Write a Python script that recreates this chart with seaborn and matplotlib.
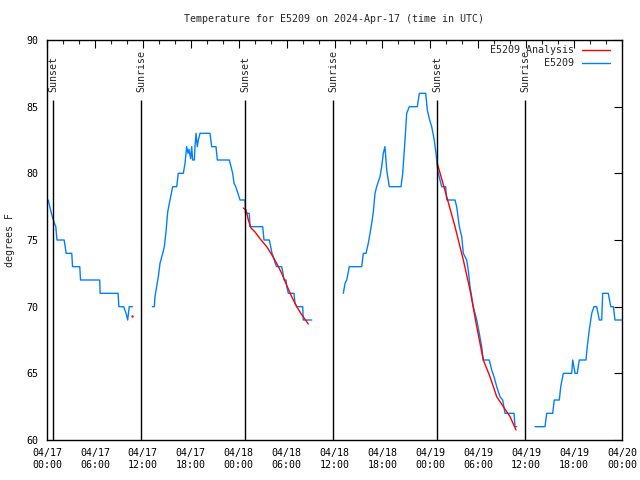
import numpy as np
import pandas as pd
import matplotlib
matplotlib.use("Agg")
import matplotlib.pyplot as plt
import matplotlib.dates as mdates
import seaborn as sns

start = pd.Timestamp("2024-04-17 00:00")

# observed E5209 temperature: hours after 04/17 00:00 UTC, degrees F
obs_hours_1 = [0.15, 0.35, 0.55, 0.9, 1.1, 1.25, 2.15, 2.4, 3.1, 3.2, 4.1, 4.2,
               6.6, 6.65, 8.9, 9.0, 9.6, 9.9, 10.1, 10.3, 10.7]
obs_temps_1 = [78, 77.5, 77, 76.3, 76, 75, 75, 74, 74, 73, 73, 72,
               72, 71, 71, 70, 70, 69.5, 69, 70, 70]

obs_hours_2 = [13.19, 13.44, 13.52, 13.74, 13.94, 14.15, 14.49, 14.69, 14.90, 15.11,
               15.40, 15.74, 16.24, 16.44, 17.07, 17.28, 17.49, 17.66, 17.78, 17.99,
               18.12, 18.24, 18.45, 18.53, 18.66, 18.82, 18.95, 19.16, 20.41, 20.62,
               21.16, 21.33, 22.83, 23.00, 23.25, 23.42, 23.63, 23.88, 24.17, 24.79,
               24.86, 25.33, 25.42, 27.01, 27.17, 27.84, 28.01, 28.17, 28.34, 28.55,
               28.76, 29.39, 29.55, 29.68, 29.93, 30.02, 30.22, 30.93, 31.05, 31.27,
               32.02, 32.09, 33.15]
obs_temps_2 = [70, 70, 70.75, 71.55, 72.25, 73.25, 74, 74.5, 75.6, 77.1,
               78, 79, 79, 80, 80, 80.75, 82, 81.5, 81.8, 81.1,
               82, 81, 81, 82, 83, 82, 82.5, 83, 83, 82,
               82, 81, 81, 80.6, 80, 79.25, 79, 78.55, 78, 78,
               77, 77, 76, 76, 75, 75, 74.5, 74, 73.75, 73.3,
               73, 73, 72.5, 72, 72, 71.5, 71, 71, 70.25, 70,
               70, 69, 69]

obs_hours_3 = [37.10, 37.32, 37.53, 37.85, 39.41, 39.61, 39.95, 40.23, 40.45, 40.66,
               40.86, 41.07, 41.28, 41.70, 41.91, 42.11, 42.32, 42.54, 42.86, 44.33,
               44.54, 44.83, 45.04, 45.37, 46.37, 46.62, 47.42, 47.62, 47.87, 48.17,
               48.46, 48.71, 48.87, 49.00, 49.42, 49.92, 50.05, 51.09, 51.30, 51.63,
               51.93, 52.13, 52.55, 52.75, 52.97, 53.18, 53.38, 53.81, 54.13, 54.43,
               54.63, 55.38, 55.68, 55.97, 56.31, 56.72, 57.06, 57.35, 58.48, 58.60,
               58.82]
obs_temps_3 = [71, 71.75, 72, 73, 73, 74, 74, 74.75, 75.5, 76.25,
               77.1, 78.5, 79, 79.75, 80.5, 81.5, 82, 80.25, 79, 79,
               80, 82.5, 84.5, 85, 85, 86, 86, 84.75, 84.1, 83.5,
               82.6, 81.5, 80.55, 80, 79, 79, 78, 78, 77.5, 76,
               75.25, 74, 73.5, 72.75, 71.5, 70.75, 70, 69, 68, 67,
               66, 66, 65.25, 64.75, 64, 63.25, 63, 62, 62, 61,
               61]

obs_hours_4 = [61.11, 62.36, 62.57, 63.32, 63.52, 64.15, 64.33, 64.65, 65.70, 65.83,
               66.12, 66.40, 66.65, 67.49, 67.65, 67.90, 68.21, 68.49, 68.83, 69.16,
               69.46, 69.58, 70.28, 70.59, 70.92, 71.12, 72.00]
obs_temps_4 = [61, 61, 62, 62, 63, 63, 64, 65, 65, 66,
               65, 65, 66, 66, 67, 68.25, 69.5, 70, 70, 69,
               69, 71, 71, 70, 70, 69, 69]

# E5209 analysis
ana_hours_1 = [10.68]
ana_temps_1 = [69.3]

ana_hours_2 = [24.58, 24.92, 25.21, 25.55, 26.05, 26.67, 27.51, 28.14, 28.76, 29.39,
               30.02, 30.64, 31.27, 31.89, 32.72]
ana_temps_2 = [77.4, 77.25, 76.5, 75.9, 75.6, 75.1, 74.5, 73.9, 73.25, 72.5,
               71.6, 70.75, 70.0, 69.4, 68.7]

ana_hours_3 = [48.87, 50.05, 51.09, 52.13, 52.97, 53.81, 54.63, 55.47, 56.31, 57.14,
               57.98, 58.73]
ana_temps_3 = [80.75, 78.25, 76, 73.5, 71.25, 68.5, 66, 64.75, 63.25, 62.5,
               61.75, 60.75]

event_hours = [0.75, 11.77, 24.79, 35.81, 48.84, 59.86]
event_labels = ["Sunset", "Sunrise", "Sunset", "Sunrise", "Sunset", "Sunrise"]

blue = "#0080ff"
red = "#ff0000"

rows = []
for i, (h, t) in enumerate([(obs_hours_1, obs_temps_1), (obs_hours_2, obs_temps_2),
                            (obs_hours_3, obs_temps_3), (obs_hours_4, obs_temps_4)]):
    for hh, tt in zip(h, t):
        rows.append(("E5209", f"o{i}", hh, tt))
for i, (h, t) in enumerate([(ana_hours_2, ana_temps_2), (ana_hours_3, ana_temps_3)]):
    for hh, tt in zip(h, t):
        rows.append(("E5209 Analysis", f"a{i}", hh, tt))
df = pd.DataFrame(rows, columns=["series", "segment", "hours", "temp"])
df["time"] = start + pd.to_timedelta(df["hours"], unit="h")

sns.set_style("white")
plt.rcParams["font.family"] = ["DejaVu Sans Mono"]

fig = plt.figure(figsize=(6.4, 4.8), dpi=100)
ax = fig.add_axes([47 / 640, 40 / 480, 575 / 640, 400 / 480])

sns.lineplot(data=df[df["series"] == "E5209"], x="time", y="temp", units="segment",
             estimator=None, color=blue, linewidth=1.0, ax=ax, legend=False)
sns.lineplot(data=df[df["series"] == "E5209 Analysis"], x="time", y="temp", units="segment",
             estimator=None, color=red, linewidth=1.0, ax=ax, legend=False)
dot = pd.DataFrame({"time": start + pd.to_timedelta(ana_hours_1, unit="h"), "temp": ana_temps_1})
sns.scatterplot(data=dot, x="time", y="temp", color=red, s=3, linewidth=0, ax=ax, legend=False)

event_times = start + pd.to_timedelta(event_hours, unit="h")
ax.vlines(event_times, 60, 85.5, color="black", linewidth=1.0)
for t, lab in zip(event_times, event_labels):
    ax.text(t, 86.1, lab, rotation=90, ha="center", va="bottom", fontsize=7.2)

ax.set_xlim(start, start + pd.Timedelta(hours=72))
ax.set_ylim(60, 90)
ax.set_yticks([60, 65, 70, 75, 80, 85, 90])
ax.xaxis.set_major_locator(mdates.HourLocator(byhour=[0, 6, 12, 18]))
ax.xaxis.set_minor_locator(mdates.HourLocator(byhour=range(0, 24, 2)))
ax.xaxis.set_major_formatter(mdates.DateFormatter("%m/%d\n%H:%M"))
ax.tick_params(axis="both", which="major", direction="in", length=6, width=0.8,
               top=True, right=True, labelsize=7.2, colors="black")
ax.tick_params(axis="x", which="minor", direction="in", length=3, width=0.8, top=True)
ax.tick_params(axis="x", which="major", pad=6)
ax.tick_params(axis="y", which="major", pad=6)
for s in ax.spines.values():
    s.set_color("black")
    s.set_linewidth(1.0)
ax.set_xlabel("")
ax.set_ylabel("")

# legend, gnuplot style
ax.text(0.9165, 0.975, "E5209 Analysis", transform=ax.transAxes, ha="right", va="center", fontsize=7.2)
ax.plot([0.93, 0.979], [0.975, 0.975], color=red, lw=1.0, transform=ax.transAxes)
ax.text(0.9165, 0.9425, "E5209", transform=ax.transAxes, ha="right", va="center", fontsize=7.2)
ax.plot([0.93, 0.979], [0.9425, 0.9425], color=blue, lw=1.0, transform=ax.transAxes)

fig.text(334.5 / 640, 1 - 19 / 480, "Temperature for E5209 on 2024-Apr-17 (time in UTC)",
         ha="center", va="center", fontsize=7.2)
fig.text(10 / 640, 0.5, "degrees F", rotation=90, ha="center", va="center", fontsize=7.2)

fig.savefig("out.png", dpi=100)
